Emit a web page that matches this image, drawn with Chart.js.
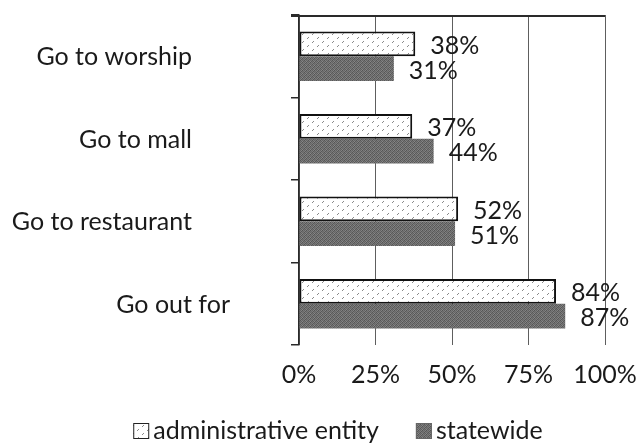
<!DOCTYPE html>
<html>
<head>
<meta charset="utf-8">
<script src="https://cdn.jsdelivr.net/npm/chart.js@4/dist/chart.umd.min.js"></script>
<style>
  body { margin: 0; background: #fff; }
  #wrap { width: 640px; height: 448px; }
</style>
</head>
<body>
<div id="wrap"><canvas id="myChart" width="640" height="448"></canvas></div>
<script>
// datos del grafico
const categories = ['Go to worship', 'Go to mall', 'Go to restaurant', 'Go out for'];
const adminValues = [38, 37, 52, 84];
const statewideValues = [31, 44, 51, 87];
const xTicks = [0, 25, 50, 75, 100];
const seriesNames = ['administrative entity', 'statewide'];

// desplazamiento horizontal de cada nombre de categoria
const labelShift = [0, 0, 0, 38];

const FONT = '25px Lato, "Open Sans", sans-serif';
const TEXT = '#1a1a1a';

// trama de puntitos para la primera serie
function patronPuntos() {
    const c = document.createElement('canvas');
    c.width = 10; c.height = 8;
    const g = c.getContext('2d');
    g.fillStyle = '#fff';
    g.fillRect(0, 0, 10, 8);
    g.fillStyle = '#8a8a8a';
    g.fillRect(3, 1, 1, 1); g.fillRect(2, 2, 1, 1);
    g.fillRect(8, 5, 1, 1); g.fillRect(7, 6, 1, 1);
    return g.createPattern(c, 'repeat');
}

// gris granulado para la segunda serie
function patronGris() {
    const tonos = [
        [0x56, 0x80, 0x66, 0x78],
        [0x74, 0x5e, 0x88, 0x5a],
        [0x62, 0x84, 0x54, 0x7c],
        [0x7e, 0x58, 0x72, 0x68]
    ];
    const c = document.createElement('canvas');
    c.width = 4; c.height = 4;
    const g = c.getContext('2d');
    for (let y = 0; y < 4; y++) {
        for (let x = 0; x < 4; x++) {
            const v = tonos[y][x];
            g.fillStyle = `rgb(${v},${v},${v})`;
            g.fillRect(x, y, 1, 1);
        }
    }
    return g.createPattern(c, 'repeat');
}

// linea de arriba, nombres de categoria, porcentajes y leyenda
const extras = {
    id: 'extras',
    afterDraw(chart) {
        const { ctx, chartArea, scales } = chart;
        ctx.save();

        ctx.fillStyle = '#2a2a2a';
        ctx.fillRect(chartArea.left - 8, Math.round(chartArea.top), chartArea.right - chartArea.left + 8, 2);

        ctx.font = FONT;
        ctx.fillStyle = TEXT;

        ctx.textAlign = 'right';
        ctx.textBaseline = 'middle';
        categories.forEach((name, i) => {
            const y = scales.y.getPixelForValue(i);
            ctx.fillText(name, chartArea.left - 107 + labelShift[i], y + 1);
        });

        ctx.textAlign = 'left';
        chart.data.datasets.forEach((ds, d) => {
            chart.getDatasetMeta(d).data.forEach((bar, i) => {
                ctx.fillText(ds.data[i] + '%', bar.x + 15, bar.y + 2);
            });
        });

        // leyenda abajo
        const sets = chart.data.datasets;
        const box = 16, gap = 4, sep = 37;
        const anchos = sets.map(ds => ctx.measureText(ds.label).width);
        let total = anchos.reduce((a, w) => a + w, 0) + sets.length * (box + gap) + sep * (sets.length - 1);
        let x = 338 - total / 2;
        const y = 431;
        sets.forEach((ds, i) => {
            ctx.fillStyle = ds.backgroundColor;
            ctx.fillRect(x, y - 8, box, box);
            ctx.strokeStyle = i === 0 ? '#222' : '#666';
            ctx.lineWidth = 1;
            ctx.strokeRect(x + 0.5, y - 7.5, box - 1, box - 1);
            ctx.fillStyle = TEXT;
            ctx.fillText(ds.label, x + box + gap, y);
            x += box + gap + anchos[i] + sep;
        });
        ctx.restore();
    }
};

const data = {
    labels: categories,
    datasets: [{
        label: seriesNames[0],
        data: adminValues,
        backgroundColor: patronPuntos(),
        borderColor: '#111',
        borderWidth: 2,
        borderSkipped: false
    }, {
        label: seriesNames[1],
        data: statewideValues,
        backgroundColor: patronGris(),
        borderWidth: 0
    }]
};

const config = {
    type: 'bar',
    data: data,
    options: {
        indexAxis: 'y',
        responsive: false,
        animation: false,
        layout: { padding: { top: 15, right: 35, left: 0, bottom: 0 } },
        datasets: { bar: { categoryPercentage: 0.6, barPercentage: 1 } },
        plugins: { legend: { display: false }, tooltip: { enabled: false } },
        scales: {
            x: {
                min: 0, max: 100,
                afterBuildTicks: s => { s.ticks = xTicks.map(v => ({ value: v })); },
                afterFit: s => { s.height = 103; s.paddingRight = 0; s.paddingLeft = 0; },
                grid: { color: '#5e5e5e', lineWidth: 1, drawTicks: false },
                border: { display: false },
                ticks: { color: TEXT, font: { family: 'Lato', size: 25 }, padding: 15, callback: v => v + '%' }
            },
            y: {
                afterFit: s => { s.width = 299; },
                grid: { offset: true, drawOnChartArea: false, drawTicks: true, tickLength: 8, color: '#2a2a2a', lineWidth: 1.5 },
                border: { display: true, color: '#2a2a2a', width: 1.5 },
                ticks: { display: false }
            }
        }
    },
    plugins: [extras]
};

const myChart = new Chart(document.getElementById('myChart'), config);
</script>
</body>
</html>
